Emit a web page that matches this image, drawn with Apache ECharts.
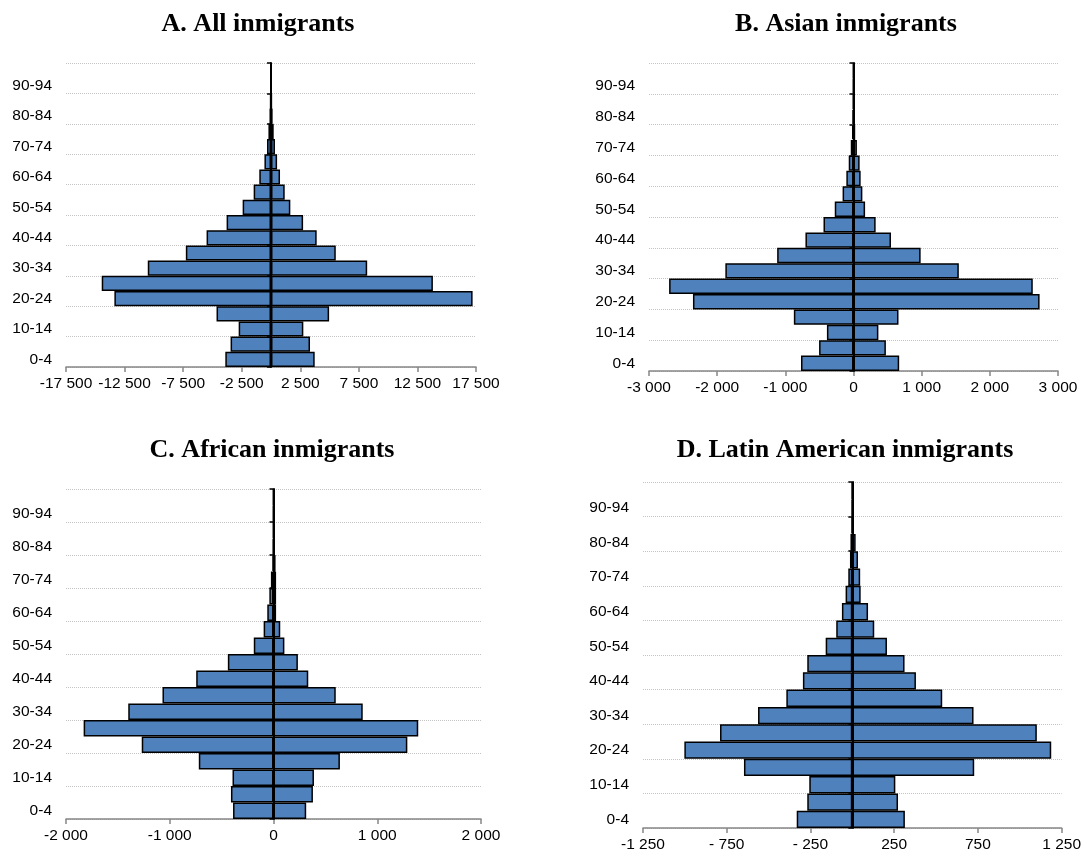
<!DOCTYPE html>
<html>
<head>
<meta charset="utf-8">
<script src="https://cdn.jsdelivr.net/npm/echarts@6/dist/echarts.min.js"></script>
<style>
  html, body { margin: 0; padding: 0; background: #fff; }
  #main { width: 1084px; height: 856px; }
</style>
</head>
<body>
<div id="main"></div>
<script>
// age groups, bottom to top
const ages = ['0-4', '5-9', '10-14', '15-19', '20-24', '25-29', '30-34', '35-39', '40-44', '45-49',
  '50-54', '55-59', '60-64', '65-69', '70-74', '75-79', '80-84', '85-89', '90-94', '95-99']

// A. All inmigrants
const allLeft = [-3900, -3450, -2760, -4650, -13370, -14450, -10520, -7270, -5500, -3790,
  -2420, -1480, -1000, -560, -340, -220, -130, -70, -30, -10]
const allRight = [3730, 3330, 2760, 4960, 17210, 13820, 8210, 5530, 3900, 2740,
  1650, 1170, 770, 520, 340, 230, 140, 70, 30, 10]
// B. Asian inmigrants
const asiaLeft = [-770, -505, -390, -875, -2355, -2705, -1880, -1120, -705, -440,
  -275, -160, -105, -70, -40, -22, -15, -8, -5, -3]
const asiaRight = [670, 475, 365, 660, 2730, 2630, 1545, 985, 550, 325,
  170, 130, 105, 90, 50, 25, 15, 8, 5, 3]
// C. African inmigrants
const afrLeft = [-390, -410, -395, -720, -1270, -1830, -1400, -1070, -745, -440,
  -190, -95, -60, -40, -25, -10, -6, -4, -3, -2]
const afrRight = [315, 380, 390, 640, 1290, 1395, 860, 600, 335, 235,
  105, 65, 25, 25, 25, 20, 12, 5, 3, 2]
// D. Latin American inmigrants
const latLeft = [-332, -269, -257, -647, -1003, -790, -563, -394, -295, -269,
  -159, -96, -62, -40, -24, -14, -11, -4, -2, -1]
const latRight = [314, 273, 257, 728, 1188, 1102, 724, 537, 380, 312,
  207, 131, 94, 50, 47, 34, 20, 4, 2, 1]

// tick labels of the value axes
const ticksA = ['-17 500', '-12 500', '-7 500', '-2 500', '2 500', '7 500', '12 500', '17 500']
const ticksB = ['-3 000', '-2 000', '-1 000', '0', '1 000', '2 000', '3 000']
const ticksC = ['-2 000', '-1 000', '0', '1 000', '2 000']
const ticksD = ['-1 250', '- 750', '- 250', '250', '750', '1 250']

const panels = [
  { title: 'A. All inmigrants', tx: 253, ty: 6, left: allLeft, right: allRight, ticks: ticksA,
    min: -17500, max: 17500, step: 5000, grid: { left: 66, top: 63, width: 410, height: 304 } },
  { title: 'B. Asian inmigrants', tx: 841, ty: 6, left: asiaLeft, right: asiaRight, ticks: ticksB,
    min: -3000, max: 3000, step: 1000, grid: { left: 649, top: 63, width: 409, height: 308 } },
  { title: 'C. African inmigrants', tx: 267, ty: 432, left: afrLeft, right: afrRight, ticks: ticksC,
    min: -2000, max: 2000, step: 1000, grid: { left: 66, top: 489, width: 415, height: 330 } },
  { title: 'D. Latin American inmigrants', tx: 840, ty: 432, left: latLeft, right: latRight, ticks: ticksD,
    min: -1250, max: 1250, step: 500, grid: { left: 643, top: 482, width: 420, height: 346 } }
]

const BLUE = '#4f81bd'
const FS = 15.5
const option = { animation: false, backgroundColor: '#fff', title: [], grid: [], xAxis: [], yAxis: [], series: [] }

panels.forEach((p, i) => {
  option.title.push({
    text: p.title, left: p.tx, top: p.ty, textAlign: 'center',
    textStyle: { fontFamily: 'Liberation Serif', fontWeight: 'bold', fontSize: 26, color: '#000' }
  })
  option.grid.push(p.grid)
  option.xAxis.push({
    type: 'value', gridIndex: i, min: p.min, max: p.max, interval: p.step,
    axisLine: { show: true, onZero: false, lineStyle: { color: '#868686', width: 1.5 } },
    axisTick: { show: true, length: 5, lineStyle: { color: '#868686', width: 1.5 } },
    axisLabel: {
      margin: 9, fontSize: FS, color: '#000', fontFamily: 'Liberation Sans',
      formatter: (v, idx) => p.ticks[idx] ?? ''
    },
    splitLine: { show: false }
  })
  // category axis with labels on the left
  option.yAxis.push({
    type: 'category', gridIndex: i, data: ages,
    axisLine: { show: false, onZero: false },
    axisTick: { show: false },
    axisLabel: { interval: 1, margin: 14, fontSize: FS, color: '#000', fontFamily: 'Liberation Sans' },
    splitLine: { show: true, interval: 1, lineStyle: { color: '#c4c4c4', type: 'dotted', width: 1 } }
  })
  // black zero line with small ticks
  option.yAxis.push({
    type: 'category', gridIndex: i, data: ages, z: 5,
    axisLine: { show: true, onZero: true, lineStyle: { color: '#000', width: 2 } },
    axisTick: { show: true, inside: true, interval: 1, length: 4, lineStyle: { color: '#000', width: 1.5 } },
    axisLabel: { show: false },
    splitLine: { show: false }
  })
  const bar = {
    type: 'bar', xAxisIndex: i, yAxisIndex: i * 2, barGap: '-100%', barCategoryGap: 0,
    itemStyle: { color: BLUE, borderColor: '#000', borderWidth: 1.5 }
  }
  option.series.push({ ...bar, data: p.left })
  option.series.push({ ...bar, data: p.right })
})

const chart = echarts.init(document.getElementById('main'))
chart.setOption(option)
window.addEventListener('resize', () => chart.resize())
</script>
</body>
</html>
